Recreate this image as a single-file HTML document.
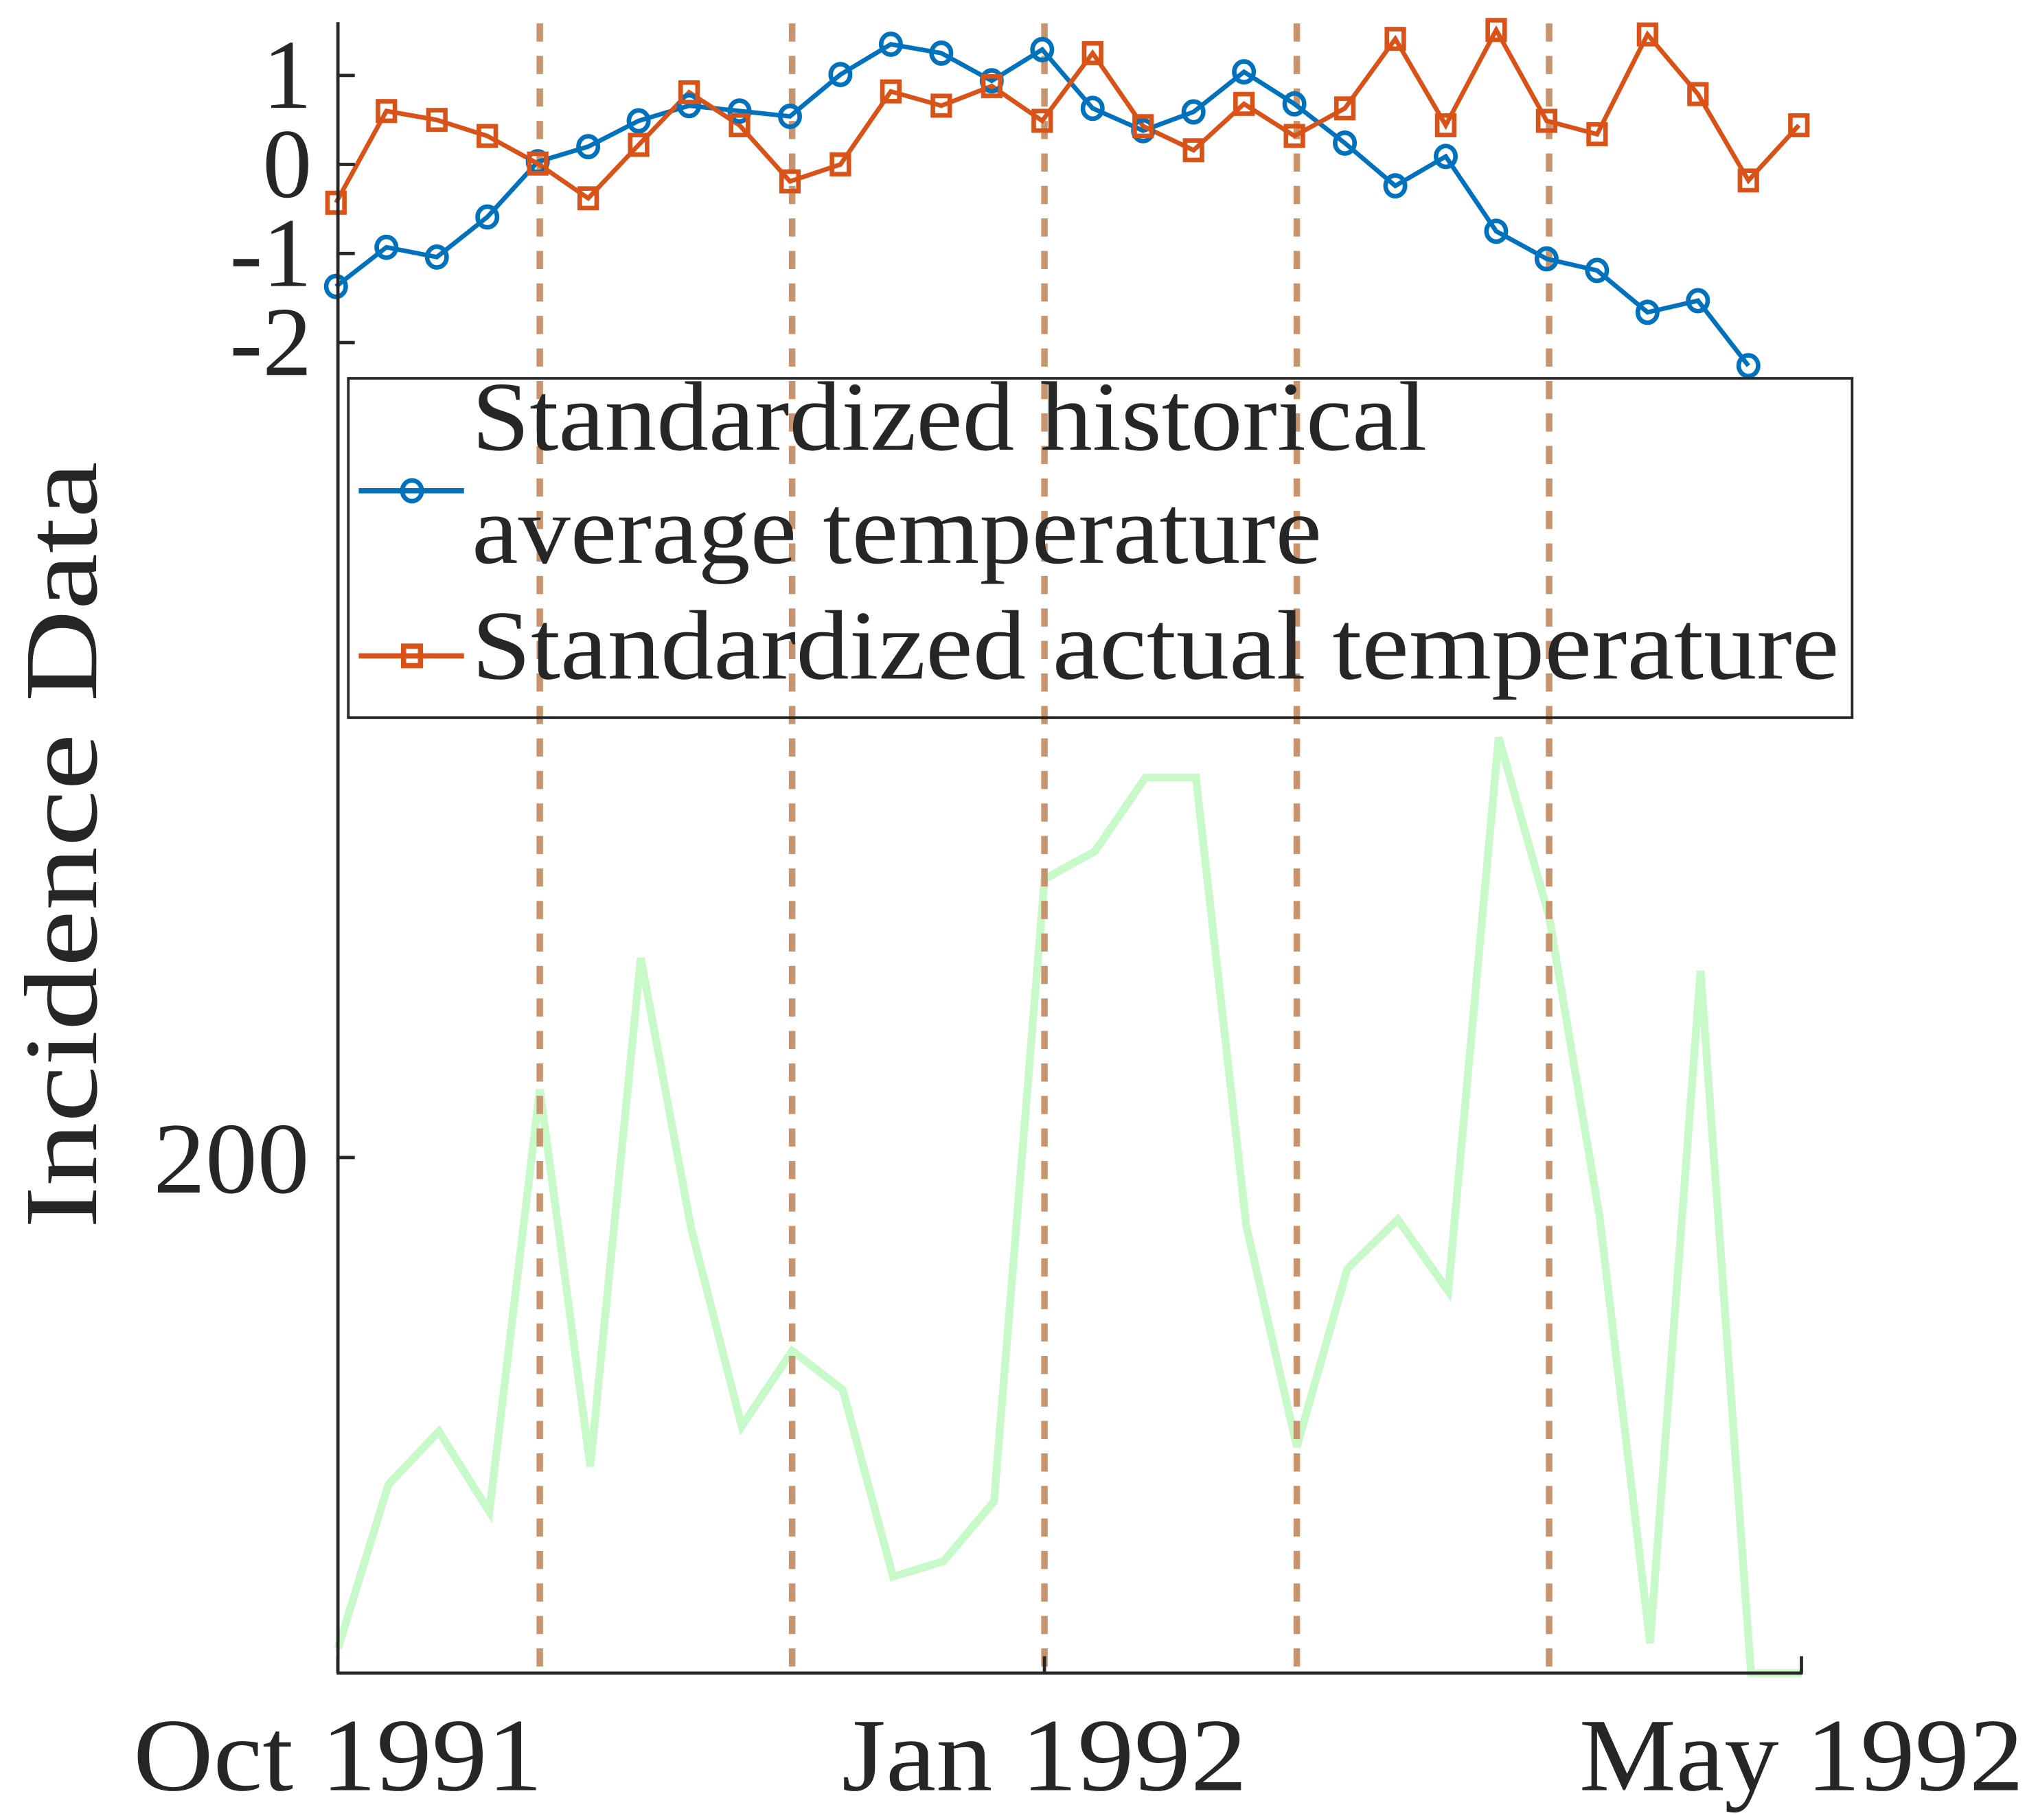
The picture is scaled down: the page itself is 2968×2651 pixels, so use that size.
<!DOCTYPE html>
<html><head><meta charset="utf-8">
<style>
html,body{margin:0;padding:0;background:#fff;}
svg{display:block;}
text{font-family:"Liberation Serif",serif;fill:#262626;}
</style></head>
<body>
<svg id="chart" width="2968" height="2651" viewBox="0 0 1568 1400" preserveAspectRatio="none" xmlns="http://www.w3.org/2000/svg">
  <g id="bottom-layer"></g>
  <g id="vlines"></g>
  <g id="top-layer"></g>
  <g id="axes">
    <line x1="260" y1="17" x2="260" y2="1287" stroke="#262626" stroke-width="2.5"/>
    <line x1="259" y1="1287" x2="1387" y2="1287" stroke="#262626" stroke-width="2.5"/>
  </g>
  <g id="ticks"></g>
  <text transform="translate(74,650) rotate(-90)" text-anchor="middle" font-size="80" textLength="590" lengthAdjust="spacingAndGlyphs">Incidence Data</text>
  <g id="legend">
    <rect x="268" y="291" width="1157" height="261" fill="none" stroke="#262626" stroke-width="2"/>
    <line x1="276" y1="377.5" x2="357" y2="377.5" stroke="#0072BD" stroke-width="4"/>
    <ellipse cx="317" cy="377.5" rx="7.5" ry="8" fill="none" stroke="#0072BD" stroke-width="3.5"/>
    <text x="363" y="346" font-size="76" textLength="735" lengthAdjust="spacingAndGlyphs" fill="#000">Standardized historical</text>
    <text x="363" y="433" font-size="76" textLength="654" lengthAdjust="spacingAndGlyphs" fill="#000">average temperature</text>
    <line x1="276" y1="504.5" x2="357" y2="504.5" stroke="#D95319" stroke-width="4"/>
    <rect x="310.5" y="497" width="13" height="15" fill="none" stroke="#D95319" stroke-width="4"/>
    <text x="363" y="522" font-size="76" textLength="1052" lengthAdjust="spacingAndGlyphs" fill="#000">Standardized actual temperature</text>
  </g>
</svg>
<script>
const historical = [-1.37,-0.93,-1.04,-0.59,0.03,0.2,0.49,0.66,0.6,0.54,1.01,1.35,1.25,0.94,1.29,0.63,0.38,0.59,1.04,0.68,0.24,-0.24,0.09,-0.75,-1.06,-1.19,-1.66,-1.53,-2.26];
const actual = [-0.43,0.6,0.5,0.32,0.01,-0.38,0.22,0.81,0.44,-0.19,0,0.82,0.66,0.88,0.49,1.25,0.43,0.16,0.68,0.32,0.63,1.41,0.44,1.51,0.49,0.34,1.46,0.79,-0.18,0.44];
const incidence = [104.8,136.6,146.9,131.3,213.2,140.1,238.7,186.2,147.9,162.5,155,118.7,121.7,133.3,254,259.4,273.7,273.7,186.7,143.9,178.4,188,174.1,281.5,246.7,188.5,105.8,236.2,100,100];
const topTicks = [1,0,-1,-2];
const topTickLabels = ["1","0","-1","-2"];
const bottomTicks = [200];
const bottomTickLabels = ["200"];
const eventIdx = [4,9,14,19,24];
const xTickIdx = [0,14,29];
const xTickLabels = ["Oct 1991","Jan 1992","May 1992"];

const NS="http://www.w3.org/2000/svg";
function mk(tag, attrs, parent){const e=document.createElementNS(NS,tag);for(const k in attrs)e.setAttribute(k,attrs[k]);parent.appendChild(e);return e;}
const x0=258.5, dx=(1384-258.5)/29;
function xTop(i){return x0+i*dx;}
function xBot(i){return 260+i*(1386-260)/29;}
function yTop(v){return 126.5-v*68.5;}
function yBot(v){return 1287-(v-100)*3.966;}

const bottomG=document.getElementById('bottom-layer');
const gl=mk('polyline',{points:incidence.map((v,i)=>xBot(i)+','+yBot(v)).join(' '),fill:'none',stroke:'#c8f9c8','stroke-width':6,'stroke-linejoin':'miter'},bottomG);



const vl=document.getElementById('vlines');
eventIdx.forEach((k)=>{
  const l=mk('line',{x1:xBot(k),y1:18,x2:xBot(k),y2:1286,stroke:'#c8946e','stroke-width':5,'stroke-dasharray':'14,11'},vl);
  
  
});

const topG=document.getElementById('top-layer');
const hl=mk('polyline',{points:historical.map((v,i)=>xTop(i)+','+yTop(v)).join(' '),fill:'none',stroke:'#0072BD','stroke-width':3.5},topG);


const al=mk('polyline',{points:actual.map((v,i)=>xTop(i)+','+yTop(v)).join(' '),fill:'none',stroke:'#D95319','stroke-width':3.5},topG);


historical.forEach((v,i)=>{
  const c=mk('ellipse',{cx:xTop(i),cy:yTop(v),rx:7.5,ry:8,fill:'none',stroke:'#0072BD','stroke-width':3.5},topG);
  
  
});
actual.forEach((v,i)=>{
  const r=mk('rect',{x:xTop(i)-6.5,y:yTop(v)-7.5,width:13,height:15,fill:'none',stroke:'#D95319','stroke-width':3.5},topG);
  
  
});

const tk=document.getElementById('ticks');
topTicks.forEach((v,i)=>{
  const l=mk('line',{x1:260,y1:yTop(v),x2:273,y2:yTop(v),stroke:'#262626','stroke-width':2.5},tk);
  
  
  const t=mk('text',{x:240,y:yTop(v)+25,'text-anchor':'end','font-size':76},tk);
  t.textContent=topTickLabels[i];
  
  
});
bottomTicks.forEach((v,i)=>{
  const l=mk('line',{x1:260,y1:yBot(v),x2:273,y2:yBot(v),stroke:'#262626','stroke-width':2.5},tk);
  
  
  const t=mk('text',{x:238,y:yBot(v)+27,'text-anchor':'end','font-size':78,textLength:120,lengthAdjust:'spacingAndGlyphs'},tk);
  t.textContent=bottomTickLabels[i];
  
  
});
const xw=[315,312,342];
xTickIdx.forEach((k,i)=>{
  const x=xBot(k);
  const l=mk('line',{x1:x,y1:1287,x2:x,y2:1274,stroke:'#262626','stroke-width':2.5},tk);
  
  
  const t=mk('text',{x:x,y:1377,'text-anchor':'middle','font-size':80,textLength:xw[i],lengthAdjust:'spacingAndGlyphs'},tk);
  t.textContent=xTickLabels[i];
  
  
});
</script>
</body></html>
